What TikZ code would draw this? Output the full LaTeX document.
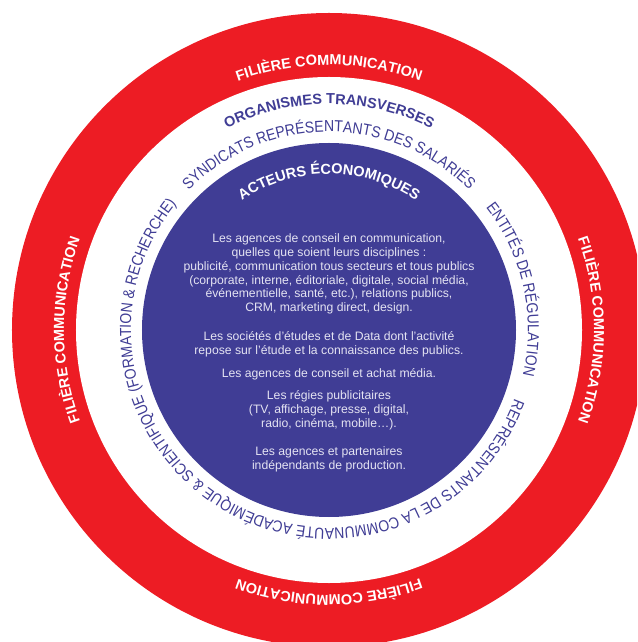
\documentclass[tikz,border=0pt]{standalone}
\usepackage{fontspec}
\setmainfont{Liberation Sans}
\newfontfamily\condfamily[FakeStretch=0.88]{Liberation Sans}
\usetikzlibrary{decorations.text}
\definecolor{cred}{RGB}{237,28,36}
\definecolor{cblue}{RGB}{64,61,149}
\definecolor{ctext}{RGB}{228,227,242}
\newcommand\redfnt{\bfseries\fontsize{14.5}{16}\selectfont}
\newcommand\ringbfnt{\bfseries\fontsize{14.5}{16}\selectfont}
\newcommand\ringfnt{\condfamily\fontsize{15.9}{17}\selectfont}
\begin{document}
\begin{tikzpicture}[x=1pt,y=1pt,
  curvetext/.style={decorate, decoration={text along path, text align=center}},
  bodytext/.style={text=ctext, align=center, inner sep=0pt, font=\fontsize{12.2}{13.8}\selectfont}]
\useasboundingbox (-329,-312) rectangle (308,330);
\clip (-329,-312) rectangle (308,330);
\coordinate (C) at (0,0);
% rings
\fill[cred] (C) circle[radius=317];
\fill[white] (C) circle[radius=253];
\fill[cblue] (C) circle[radius=187];
% red ring labels
\path[curvetext, decoration={text color=white, text={|\redfnt|FILIÈRE COMMUNICATION}}]
  (130:265) arc[start angle=130, end angle=50, radius=265];
\path[curvetext, decoration={text color=white, text={|\redfnt|FILIÈRE COMMUNICATION}}]
  (220:265) arc[start angle=220, end angle=140, radius=265];
\path[curvetext, decoration={text color=white, text={|\redfnt|FILIÈRE COMMUNICATION}}]
  (40:265) arc[start angle=40, end angle=-40, radius=265];
\path[curvetext, decoration={text color=white, text={|\redfnt|FILIÈRE COMMUNICATION}}]
  (-50:265) arc[start angle=-50, end angle=-130, radius=265];
% white ring labels
\path[curvetext, decoration={text color=cblue, text={|\ringbfnt|ORGANISMES TRANSVERSES}}]
  (130:226) arc[start angle=130, end angle=50, radius=226];
\path[curvetext, decoration={text color=cblue, text={|\ringfnt|SYNDICATS REPRÉSENTANTS DES SALARIÉS}}]
  (150:198) arc[start angle=150, end angle=30, radius=198];
\path[curvetext, decoration={text color=cblue, text={|\ringfnt|ENTITÉS DE RÉGULATION}}]
  (50:199) arc[start angle=50, end angle=-25, radius=199];
\path[curvetext, decoration={text color=cblue, text={|\ringfnt|REPRÉSENTANTS DE LA COMMUNAUTÉ ACADÉMIQUE {\&} SCIENTIFIQUE (FORMATION {\&} RECHERCHE)}}]
  (-10:198) arc[start angle=-10, end angle=-230, radius=198];
% blue disk title
\path[curvetext, decoration={text color=white, text={|\ringbfnt|ACTEURS ÉCONOMIQUES}}]
  (140:156) arc[start angle=140, end angle=40, radius=156];
% body text
\node[bodytext] (p1) at (0,56) {Les agences de conseil en communication,\\quelles que soient leurs disciplines :\\publicité, communication tous secteurs et tous publics\\(corporate, interne, éditoriale, digitale, social média,\\événementielle, santé, etc.), relations publics,\\CRM, marketing direct, design.};
\node[bodytext] (p2) at (0,-14.5) {Les sociétés d’études et de Data dont l’activité\\repose sur l’étude et la connaissance des publics.};
\node[bodytext] (p3) at (0,-44.5) {Les agences de conseil et achat média.};
\node[bodytext] (p4) at (0,-80) {Les régies publicitaires\\(TV, affichage, presse, digital,\\radio, cinéma, mobile…).};
\node[bodytext] (p5) at (0,-129) {Les agences et partenaires\\indépendants de production.};
\end{tikzpicture}
\end{document}
